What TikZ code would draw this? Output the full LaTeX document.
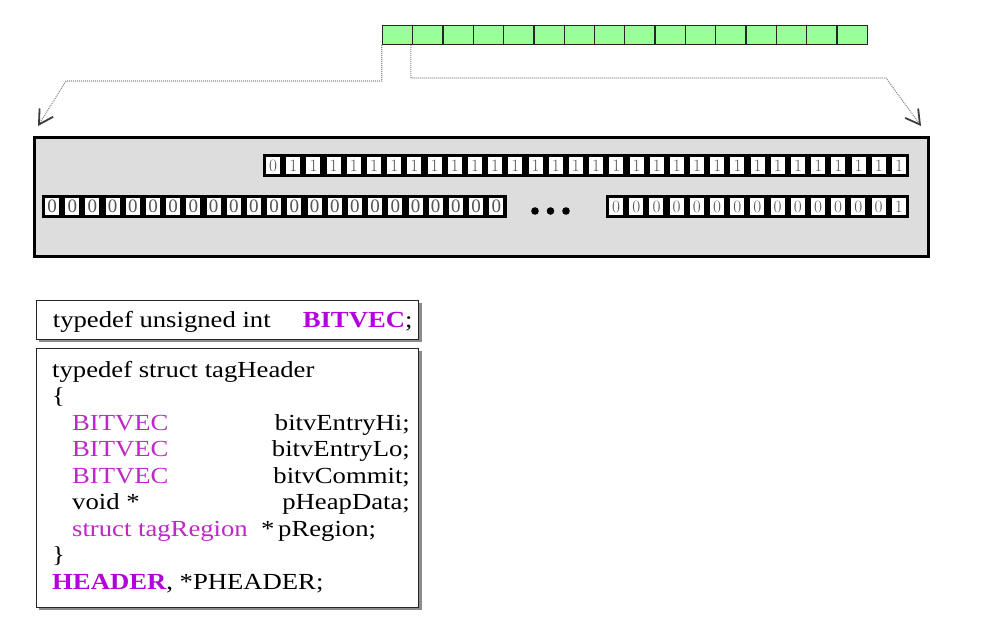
\documentclass[tikz,border=0pt]{standalone}
\usepackage{fontspec}
\setmainfont{Liberation Serif}[FakeStretch=1.16]
\newfontfamily\digitfont{Liberation Serif}
\usetikzlibrary{arrows.meta}
\definecolor{cellgreen}{RGB}{153,255,153}
\definecolor{memgray}{RGB}{221,221,221}
\definecolor{kw}{RGB}{190,40,200}
\definecolor{kwb}{RGB}{180,0,220}
\definecolor{digitcol}{RGB}{85,85,85}
\definecolor{dotline}{RGB}{140,140,140}
\definecolor{tipgray}{RGB}{60,60,60}
\begin{document}
\begin{tikzpicture}[x=1pt,y=-1pt,
  greencell/.style={draw=black!85, line width=1.3pt, fill=cellgreen, minimum width=30.3pt, minimum height=19pt, inner sep=0pt, anchor=north west},
  bitrow/.style={draw=black, line width=1.8pt, fill=black, inner sep=0pt, anchor=north west, minimum height=21.5pt},
  bitcell/.style={fill=white, minimum width=14pt, minimum height=17.5pt, inner sep=0pt, font=\digitfont\fontsize{19}{19}\selectfont, text=digitcol},
  membox/.style={draw=black, line width=3pt, fill=memgray, anchor=north west, inner sep=0pt, minimum width=894pt, minimum height=119pt},
  codebox/.style={draw=black!85, line width=1.3pt, fill=white, inner sep=0pt, anchor=north west},
  shadowbox/.style={fill=black!45, inner sep=0pt, anchor=north west},
  code/.style={inner sep=0pt, font=\fontsize{23}{27}\selectfont},
  kwtext/.style={code, text=kw},
  connector/.style={draw=dotline, line width=1.1pt, dash pattern=on 1pt off 1pt, -{Straight Barb[length=14pt,width=16pt,line width=1.8pt,color=tipgray]}}
]
\fill[white] (0,0) rectangle (995,632);
\useasboundingbox (0,0) rectangle (995,632);

% green strip
\foreach \i in {1,...,16}
  \node[greencell] (g\i) at ({381.7+(\i-1)*30.3},24.5) {};

% memory box
\node[membox] (mem) at (33,136) {};

% top bit row (32 bits)
\node[bitrow, minimum width=644.5pt] (toprow) at (263,154) {};
\foreach \i in {1,...,32}{
  \pgfmathsetmacro{\bit}{ifthenelse(\i==1,0,1)}
  \node[bitcell] (a\i) at ({263+(\i-0.5)*20.19},165.5) {\pgfmathprintnumber{\bit}};
}
% bottom left row (23 bits)
\node[bitrow, minimum width=463pt] (leftrow) at (42,195) {};
\foreach \i in {1,...,23}
  \node[bitcell] (b\i) at ({42+(\i-0.5)*20.19},206.5) {0};
% bottom right row (15 bits)
\node[bitrow, minimum width=301.5pt] (rightrow) at (606,195) {};
\foreach \i in {1,...,15}{
  \pgfmathsetmacro{\bit}{ifthenelse(\i==15,1,0)}
  \node[bitcell] (c\i) at ({606+(\i-0.5)*20.19},206.5) {\pgfmathprintnumber{\bit}};
}
% ellipsis dots
\fill[black] (535,211) circle (3.8);
\fill[black] (550.5,211) circle (3.8);
\fill[black] (566,211) circle (3.8);

% connectors
\coordinate (lbend) at (66,81);
\coordinate (ltip) at (38,126);
\coordinate (rbend) at (886,78);
\coordinate (rtip) at (921,126);
\draw[connector] (g1.south west) |- (lbend) -- (ltip);
\draw[connector] ([xshift=-2.5pt]g1.south east) |- (rbend) -- (rtip);

% code box 1
\node[shadowbox, minimum width=383pt, minimum height=39pt] (sh1) at (39,303) {};
\node[codebox, minimum width=382pt, minimum height=38.5pt] (box1) at (36,300) {};
\node[code, anchor=base west] (td) at (52.7,327.5) {typedef unsigned int};
\node[code, anchor=base east] (bv) at (412.7,327.5) {\textcolor{kwb}{\bfseries BITVEC};};

% code box 2
\node[shadowbox, minimum width=383pt, minimum height=259pt] (sh2) at (39,351) {};
\node[codebox, minimum width=382pt, minimum height=258.5pt] (box2) at (36,348) {};
\node[code, anchor=base west] (l1) at (52,377) {typedef struct tagHeader};
\node[code, anchor=base west] (l2) at (52,403.5) {\{};
\node[kwtext, anchor=base west] (l3a) at (72,430) {BITVEC};
\node[code, anchor=base east] (l3b) at (410,430) {bitvEntryHi;};
\node[kwtext, anchor=base west] (l4a) at (72,456.5) {BITVEC};
\node[code, anchor=base east] (l4b) at (410,456.5) {bitvEntryLo;};
\node[kwtext, anchor=base west] (l5a) at (72,483) {BITVEC};
\node[code, anchor=base east] (l5b) at (410,483) {bitvCommit;};
\node[code, anchor=base west] (l6a) at (72,509.5) {void *};
\node[code, anchor=base east] (l6b) at (410,509.5) {pHeapData;};
\node[kwtext, anchor=base west] (l7a) at (72,536) {struct tagRegion};
\node[code, anchor=base west] (l7s) at (261,536) {*};
\node[code, anchor=base west] (l7b) at (278,536) {pRegion;};
\node[code, anchor=base west] (l8) at (52,562.5) {\}};
\node[code, anchor=base west] (l9) at (52,589) {\textcolor{kwb}{\bfseries HEADER}, *PHEADER;};
\end{tikzpicture}
\end{document}
